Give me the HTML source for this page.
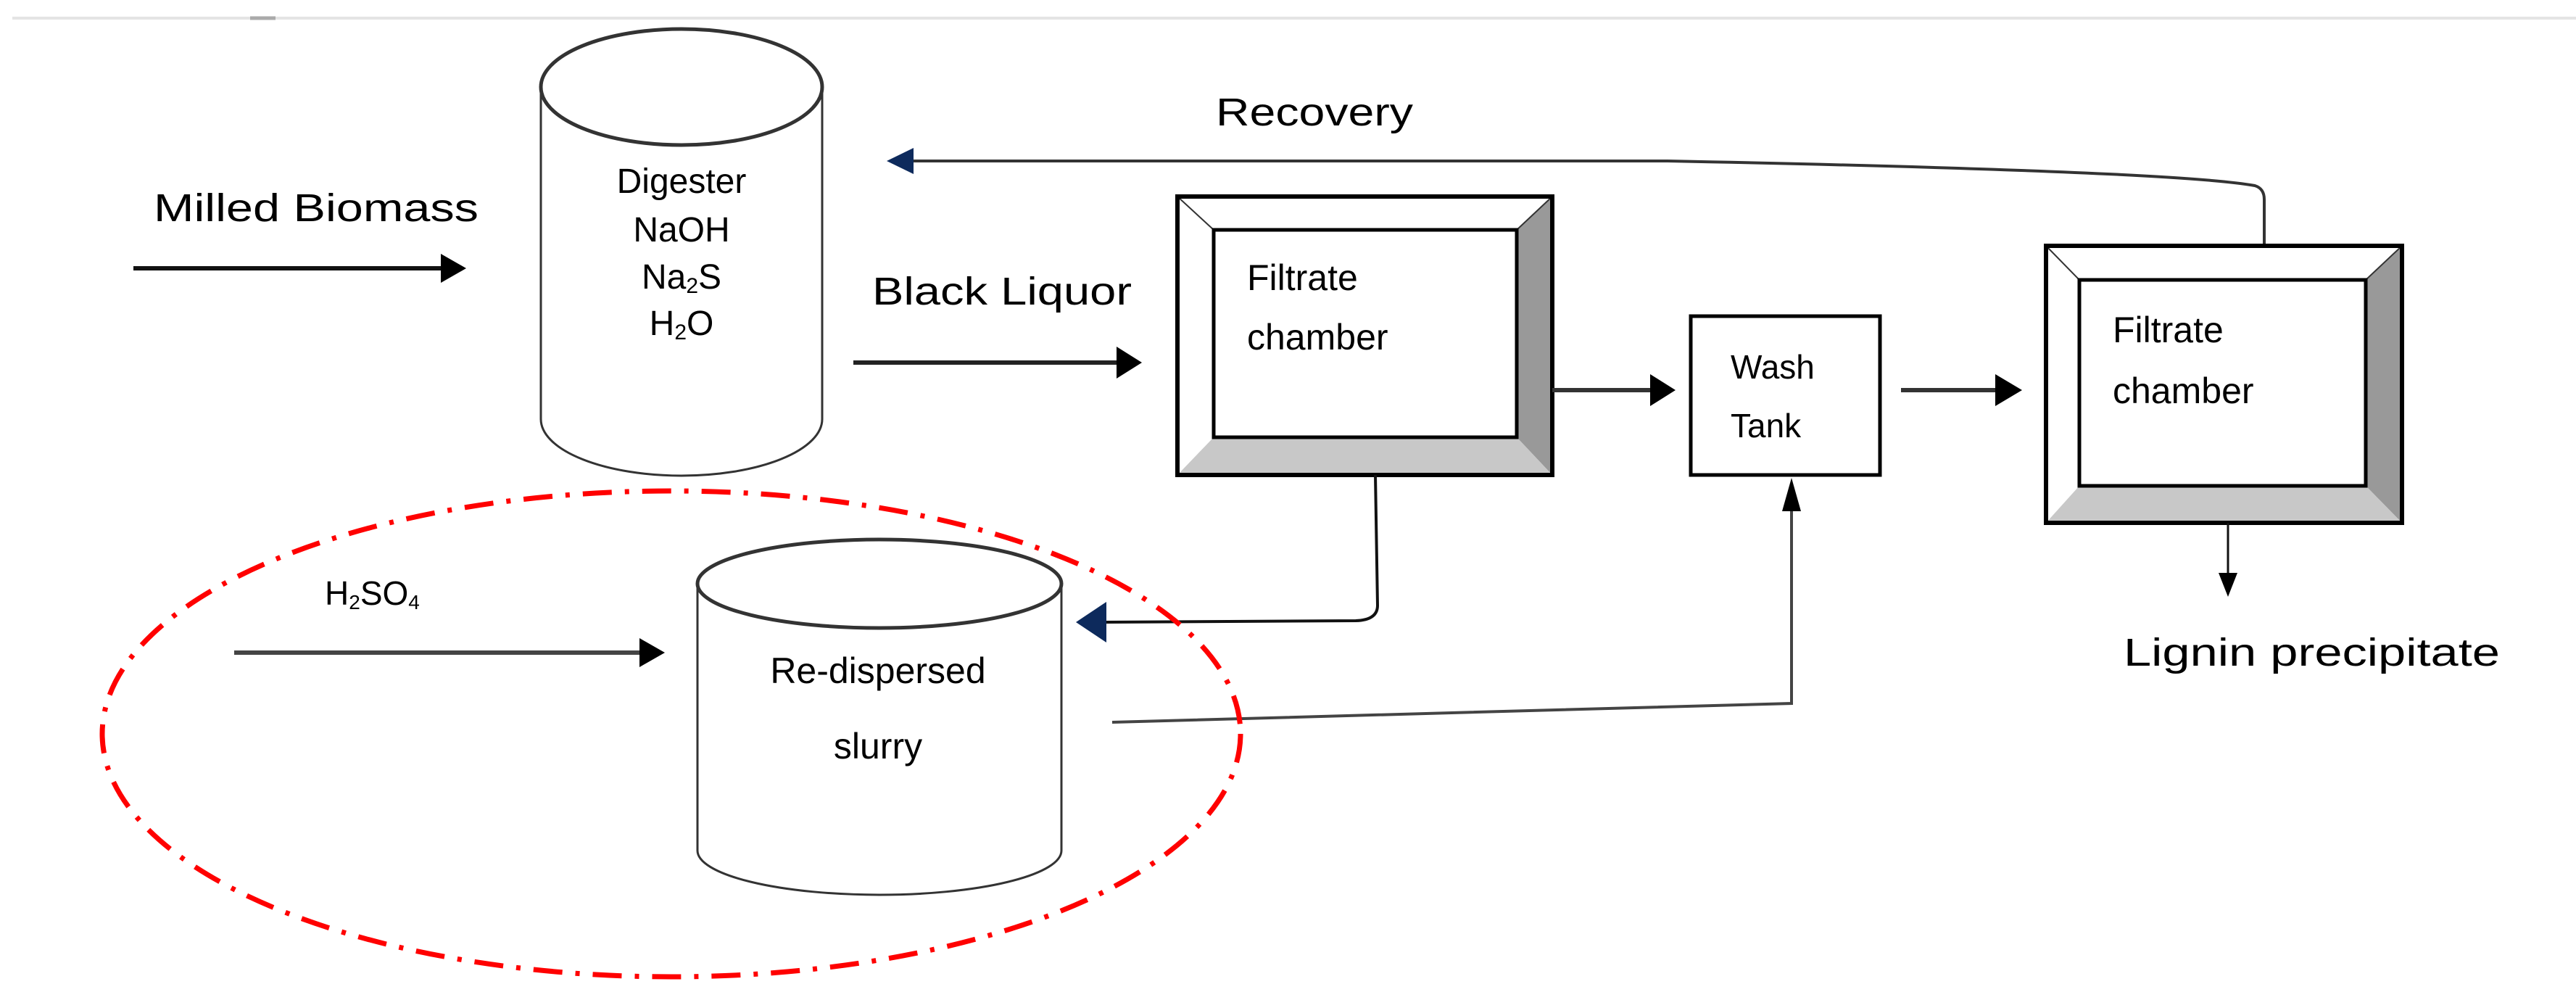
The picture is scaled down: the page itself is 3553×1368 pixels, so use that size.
<!DOCTYPE html>
<html><head><meta charset="utf-8"><style>html,body{margin:0;padding:0;background:#fff}svg{display:block}</style></head>
<body>
<svg width="3553" height="1368" viewBox="0 0 3553 1368" xmlns="http://www.w3.org/2000/svg" font-family="Liberation Sans, sans-serif" font-size="50" fill="#000">
<line x1="17" y1="25" x2="3553" y2="25" stroke="#e4e4e4" stroke-width="4"/>
<line x1="345" y1="25" x2="380" y2="25" stroke="#aaa" stroke-width="5"/>

<!-- Digester -->
<path d="M746,120 L746,578 A194,78 0 0 0 1134,578 L1134,120" fill="#fff" stroke="#333" stroke-width="3"/>
<ellipse cx="940" cy="120" rx="194" ry="80" fill="#fff" stroke="#333" stroke-width="5"/>
<g text-anchor="middle" font-size="48">
<text x="940" y="266">Digester</text>
<text x="940" y="333">NaOH</text>
<text x="940" y="398">Na<tspan font-size="30" dy="6">2</tspan><tspan dy="-6">S</tspan></text>
<text x="940" y="462">H<tspan font-size="30" dy="6">2</tspan><tspan dy="-6">O</tspan></text>
</g>

<text x="212" y="305" font-size="54" textLength="448" lengthAdjust="spacingAndGlyphs">Milled Biomass</text>
<line x1="184" y1="370" x2="615" y2="370" stroke="#111" stroke-width="6"/>
<path d="M608,350 L643,370 L608,390 z" fill="#000"/>

<text x="1203" y="420" font-size="54" textLength="358" lengthAdjust="spacingAndGlyphs">Black Liquor</text>
<line x1="1177" y1="500" x2="1545" y2="500" stroke="#222" stroke-width="6"/>
<path d="M1540,478 L1575,500 L1540,522 z" fill="#000"/>

<!-- Recovery -->
<text x="1677" y="173" font-size="54" textLength="272" lengthAdjust="spacingAndGlyphs">Recovery</text>
<path d="M1255,222 L2300,222 Q3000,236 3110,256 Q3123,260 3123,275 L3123,339" fill="none" stroke="#333" stroke-width="4"/>
<path d="M1223,222 L1260,204 L1260,240 z" fill="#0d2a5c"/>

<!-- Filtrate chamber 1 -->
<rect x="1624" y="271" width="517" height="384" fill="#fff"/>
<polygon points="2092,317 2141,271 2141,655 2092,603" fill="#999"/>
<polygon points="1674,603 2092,603 2141,655 1624,655" fill="#c8c8c8"/>
<line x1="1624" y1="271" x2="1674" y2="317" stroke="#333" stroke-width="2"/>
<line x1="2141" y1="271" x2="2092" y2="317" stroke="#333" stroke-width="2"/>
<rect x="1624" y="271" width="517" height="384" fill="none" stroke="#000" stroke-width="6"/>
<rect x="1674" y="317" width="418" height="286" fill="#fff" stroke="#000" stroke-width="5"/>
<text x="1720" y="400">Filtrate</text>
<text x="1720" y="482">chamber</text>

<line x1="2141" y1="538" x2="2280" y2="538" stroke="#333" stroke-width="6"/>
<path d="M2276,516 L2311,538 L2276,560 z" fill="#000"/>

<!-- Wash Tank -->
<rect x="2332" y="436" width="261" height="219" fill="#fff" stroke="#000" stroke-width="5"/>
<text x="2387" y="522" font-size="46">Wash</text>
<text x="2387" y="603" font-size="46">Tank</text>

<line x1="2622" y1="538" x2="2755" y2="538" stroke="#333" stroke-width="6"/>
<path d="M2752,516 L2789,538 L2752,560 z" fill="#000"/>

<!-- Filtrate chamber 2 -->
<rect x="2822" y="339" width="491" height="382" fill="#fff"/>
<polygon points="3263,386 3313,339 3313,721 3263,670" fill="#999"/>
<polygon points="2868,670 3263,670 3313,721 2822,721" fill="#c8c8c8"/>
<line x1="2822" y1="339" x2="2868" y2="386" stroke="#333" stroke-width="2"/>
<line x1="3313" y1="339" x2="3263" y2="386" stroke="#333" stroke-width="2"/>
<rect x="2822" y="339" width="491" height="382" fill="none" stroke="#000" stroke-width="6"/>
<rect x="2868" y="386" width="395" height="284" fill="#fff" stroke="#000" stroke-width="5"/>
<text x="2914" y="472">Filtrate</text>
<text x="2914" y="556">chamber</text>

<line x1="3073" y1="721" x2="3073" y2="795" stroke="#111" stroke-width="3"/>
<path d="M3060,790 L3086,790 L3073,823 z" fill="#000"/>
<text x="2929" y="918" font-size="54" textLength="519" lengthAdjust="spacingAndGlyphs">Lignin precipitate</text>

<!-- chamber1 to slurry -->
<path d="M1897,655 L1900,835 Q1900,855 1870,856 L1520,858" fill="none" stroke="#111" stroke-width="4"/>
<path d="M1484,858 L1526,830 L1526,886 z" fill="#0d2a5c"/>

<!-- Re-dispersed slurry -->
<path d="M962,805 L962,1173 A251,61 0 0 0 1464,1173 L1464,805" fill="#fff" stroke="#333" stroke-width="3"/>
<ellipse cx="1213" cy="805" rx="251" ry="61" fill="#fff" stroke="#333" stroke-width="5"/>
<text x="1211" y="942" text-anchor="middle">Re-dispersed</text>
<text x="1211" y="1046" text-anchor="middle">slurry</text>

<text x="448" y="834" font-size="46">H<tspan font-size="28" dy="6">2</tspan><tspan dy="-6">SO</tspan><tspan font-size="28" dy="6">4</tspan></text>
<line x1="323" y1="900" x2="890" y2="900" stroke="#444" stroke-width="6"/>
<path d="M882,880 L917,900 L882,920 z" fill="#000"/>

<path d="M1534,996 L2471,970 L2471,700" fill="none" stroke="#444" stroke-width="4"/>
<path d="M2458,705 L2484,705 L2471,659 z" fill="#000"/>

<!-- red dash-dot ellipse -->
<ellipse cx="926" cy="1012" rx="785" ry="335" fill="none" stroke="#f00" stroke-width="7" stroke-dasharray="40,18,6,18"/>
</svg>
</body></html>
